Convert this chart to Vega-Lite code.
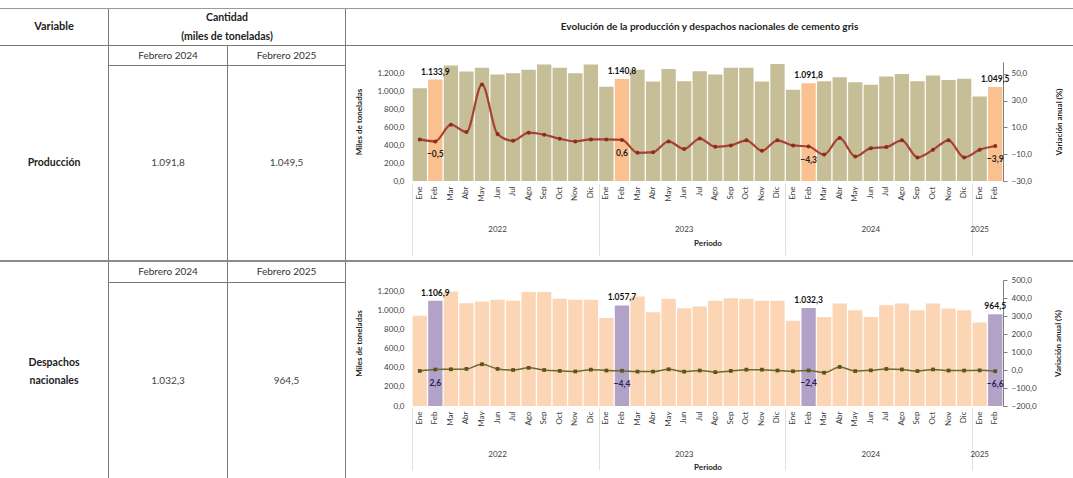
{
  "$schema": "https://vega.github.io/schema/vega-lite/v6.json",
  "padding": {"left": 0, "top": 8, "right": 0, "bottom": 0},
  "autosize": {"type": "pad"},
  "config": {
    "font": "Lato",
    "locale": {"number": {"decimal": ",", "thousands": ".", "grouping": [3], "currency": ["$", ""]}},
    "view": {"stroke": null},
    "axis": {"labelFont": "Lato", "titleFont": "Lato", "grid": false}
  },
  "datasets": {
    "k": [{"k": "a"}],
    "prod": [
      {"mes": "2022-01", "v": 1037, "var": 1.0, "feb": false},
      {"mes": "2022-02", "v": 1133.9, "var": -0.5, "feb": true},
      {"mes": "2022-03", "v": 1290, "var": 12.0, "feb": false},
      {"mes": "2022-04", "v": 1223, "var": 6.5, "feb": false},
      {"mes": "2022-05", "v": 1265, "var": 42.0, "feb": false},
      {"mes": "2022-06", "v": 1190, "var": 5.0, "feb": false},
      {"mes": "2022-07", "v": 1204, "var": 0.0, "feb": false},
      {"mes": "2022-08", "v": 1242, "var": 6.0, "feb": false},
      {"mes": "2022-09", "v": 1301, "var": 4.5, "feb": false},
      {"mes": "2022-10", "v": 1265, "var": 1.5, "feb": false},
      {"mes": "2022-11", "v": 1204, "var": -0.5, "feb": false},
      {"mes": "2022-12", "v": 1301, "var": 1.0, "feb": false},
      {"mes": "2023-01", "v": 1052, "var": 1.0, "feb": false},
      {"mes": "2023-02", "v": 1140.8, "var": 0.6, "feb": true},
      {"mes": "2023-03", "v": 1242, "var": -9.0, "feb": false},
      {"mes": "2023-04", "v": 1112, "var": -8.5, "feb": false},
      {"mes": "2023-05", "v": 1253, "var": -0.5, "feb": false},
      {"mes": "2023-06", "v": 1115, "var": -6.2, "feb": false},
      {"mes": "2023-07", "v": 1227, "var": 1.6, "feb": false},
      {"mes": "2023-08", "v": 1190, "var": -4.5, "feb": false},
      {"mes": "2023-09", "v": 1265, "var": -3.5, "feb": false},
      {"mes": "2023-10", "v": 1265, "var": 0.3, "feb": false},
      {"mes": "2023-11", "v": 1112, "var": -7.5, "feb": false},
      {"mes": "2023-12", "v": 1309, "var": 0.3, "feb": false},
      {"mes": "2024-01", "v": 1019, "var": -3.5, "feb": false},
      {"mes": "2024-02", "v": 1091.8, "var": -4.3, "feb": true},
      {"mes": "2024-03", "v": 1115, "var": -10.3, "feb": false},
      {"mes": "2024-04", "v": 1160, "var": 2.1, "feb": false},
      {"mes": "2024-05", "v": 1104, "var": -11.8, "feb": false},
      {"mes": "2024-06", "v": 1075, "var": -5.5, "feb": false},
      {"mes": "2024-07", "v": 1167, "var": -4.7, "feb": false},
      {"mes": "2024-08", "v": 1197, "var": 0.3, "feb": false},
      {"mes": "2024-09", "v": 1115, "var": -12.5, "feb": false},
      {"mes": "2024-10", "v": 1178, "var": -6.7, "feb": false},
      {"mes": "2024-11", "v": 1130, "var": 0.3, "feb": false},
      {"mes": "2024-12", "v": 1142, "var": -12.5, "feb": false},
      {"mes": "2025-01", "v": 945, "var": -6.7, "feb": false},
      {"mes": "2025-02", "v": 1049.5, "var": -3.9, "feb": true}
    ],
    "desp": [
      {"mes": "2022-01", "v": 950, "var": -5, "feb": false},
      {"mes": "2022-02", "v": 1106.9, "var": 2.6, "feb": true},
      {"mes": "2022-03", "v": 1205, "var": 4, "feb": false},
      {"mes": "2022-04", "v": 1082, "var": 6, "feb": false},
      {"mes": "2022-05", "v": 1099, "var": 32, "feb": false},
      {"mes": "2022-06", "v": 1117, "var": 6, "feb": false},
      {"mes": "2022-07", "v": 1107, "var": 0, "feb": false},
      {"mes": "2022-08", "v": 1199, "var": 12, "feb": false},
      {"mes": "2022-09", "v": 1199, "var": 0, "feb": false},
      {"mes": "2022-10", "v": 1128, "var": -5, "feb": false},
      {"mes": "2022-11", "v": 1117, "var": -8, "feb": false},
      {"mes": "2022-12", "v": 1117, "var": 2, "feb": false},
      {"mes": "2023-01", "v": 925, "var": -3, "feb": false},
      {"mes": "2023-02", "v": 1057.7, "var": -4.4, "feb": true},
      {"mes": "2023-03", "v": 1153, "var": -9, "feb": false},
      {"mes": "2023-04", "v": 986, "var": -9, "feb": false},
      {"mes": "2023-05", "v": 1128, "var": 4, "feb": false},
      {"mes": "2023-06", "v": 1029, "var": -9, "feb": false},
      {"mes": "2023-07", "v": 1046, "var": -3, "feb": false},
      {"mes": "2023-08", "v": 1107, "var": -12, "feb": false},
      {"mes": "2023-09", "v": 1135, "var": -5, "feb": false},
      {"mes": "2023-10", "v": 1128, "var": 2, "feb": false},
      {"mes": "2023-11", "v": 1107, "var": 2, "feb": false},
      {"mes": "2023-12", "v": 1107, "var": -3, "feb": false},
      {"mes": "2024-01", "v": 897, "var": -7, "feb": false},
      {"mes": "2024-02", "v": 1032.3, "var": -2.4, "feb": true},
      {"mes": "2024-03", "v": 937, "var": -15, "feb": false},
      {"mes": "2024-04", "v": 1078, "var": 17, "feb": false},
      {"mes": "2024-05", "v": 1007, "var": -6, "feb": false},
      {"mes": "2024-06", "v": 937, "var": -2, "feb": false},
      {"mes": "2024-07", "v": 1060, "var": 6, "feb": false},
      {"mes": "2024-08", "v": 1078, "var": 3, "feb": false},
      {"mes": "2024-09", "v": 1007, "var": -6, "feb": false},
      {"mes": "2024-10", "v": 1078, "var": 3, "feb": false},
      {"mes": "2024-11", "v": 1025, "var": -3, "feb": false},
      {"mes": "2024-12", "v": 1007, "var": -3, "feb": false},
      {"mes": "2025-01", "v": 880, "var": -2, "feb": false},
      {"mes": "2025-02", "v": 964.5, "var": -6.6, "feb": true}
    ]
  },
  "spacing": 0,
  "vconcat": [
    {"width": 1073, "height": 1, "data": {"name": "k"}, "mark": {"type": "point", "size": 0, "strokeWidth": 0, "opacity": 0}, "encoding": {"x": {"field": "k", "type": "nominal", "axis": null}, "y": {"field": "k", "type": "nominal", "axis": null}}, "view": {"stroke": null, "fill": "#9a9a9a"}},
    {
      "spacing": 0,
      "hconcat": [
        {"width": 108, "height": 36, "data": {"values": [{"t": "Variable"}]}, "mark": {"type": "text", "fontWeight": "bold", "fontSize": 11, "color": "#222222"}, "encoding": {"x": {"field": "t", "type": "nominal", "axis": null}, "y": {"field": "t", "type": "nominal", "axis": null}, "text": {"field": "t"}}},
        {"width": 1, "height": 36, "data": {"name": "k"}, "mark": {"type": "point", "size": 0, "strokeWidth": 0, "opacity": 0}, "encoding": {"x": {"field": "k", "type": "nominal", "axis": null}, "y": {"field": "k", "type": "nominal", "axis": null}}, "view": {"stroke": null, "fill": "#7a7a7a"}},
        {"width": 236, "height": 36, "data": {"values": [{"t": "Cantidad\n(miles de toneladas)"}]}, "mark": {"type": "text", "fontWeight": "bold", "fontSize": 10.5, "color": "#222222", "lineBreak": "\n", "lineHeight": 19, "dy": -9}, "encoding": {"x": {"field": "t", "type": "nominal", "axis": null}, "y": {"field": "t", "type": "nominal", "axis": null}, "text": {"field": "t"}}},
        {"width": 1, "height": 36, "data": {"name": "k"}, "mark": {"type": "point", "size": 0, "strokeWidth": 0, "opacity": 0}, "encoding": {"x": {"field": "k", "type": "nominal", "axis": null}, "y": {"field": "k", "type": "nominal", "axis": null}}, "view": {"stroke": null, "fill": "#7a7a7a"}},
        {"width": 727, "height": 36, "data": {"values": [{"t": "Evolución de la producción y despachos nacionales de cemento gris"}]}, "mark": {"type": "text", "fontWeight": "bold", "fontSize": 10, "color": "#222222"}, "encoding": {"x": {"field": "t", "type": "nominal", "axis": null}, "y": {"field": "t", "type": "nominal", "axis": null}, "text": {"field": "t"}}}
      ]
    },
    {"width": 1073, "height": 1, "data": {"name": "k"}, "mark": {"type": "point", "size": 0, "strokeWidth": 0, "opacity": 0}, "encoding": {"x": {"field": "k", "type": "nominal", "axis": null}, "y": {"field": "k", "type": "nominal", "axis": null}}, "view": {"stroke": null, "fill": "#7a7a7a"}},
    {
      "spacing": 0,
      "hconcat": [
        {"width": 108, "height": 214, "data": {"values": [{"t": "Producción"}]}, "mark": {"type": "text", "fontWeight": "bold", "fontSize": 10.5, "color": "#222222", "dy": 10}, "encoding": {"x": {"field": "t", "type": "nominal", "axis": null}, "y": {"field": "t", "type": "nominal", "axis": null}, "text": {"field": "t"}}},
        {"width": 1, "height": 214, "data": {"name": "k"}, "mark": {"type": "point", "size": 0, "strokeWidth": 0, "opacity": 0}, "encoding": {"x": {"field": "k", "type": "nominal", "axis": null}, "y": {"field": "k", "type": "nominal", "axis": null}}, "view": {"stroke": null, "fill": "#7a7a7a"}},
        {
          "spacing": 0,
          "vconcat": [
            {
              "spacing": 0,
              "hconcat": [
                {"width": 118, "height": 19, "data": {"values": [{"t": "Febrero 2024"}]}, "mark": {"type": "text", "fontSize": 10, "color": "#333333"}, "encoding": {"x": {"field": "t", "type": "nominal", "axis": null}, "y": {"field": "t", "type": "nominal", "axis": null}, "text": {"field": "t"}}},
                {"width": 1, "height": 19, "data": {"name": "k"}, "mark": {"type": "point", "size": 0, "strokeWidth": 0, "opacity": 0}, "encoding": {"x": {"field": "k", "type": "nominal", "axis": null}, "y": {"field": "k", "type": "nominal", "axis": null}}, "view": {"stroke": null, "fill": "#7a7a7a"}},
                {"width": 117, "height": 19, "data": {"values": [{"t": "Febrero 2025"}]}, "mark": {"type": "text", "fontSize": 10, "color": "#333333"}, "encoding": {"x": {"field": "t", "type": "nominal", "axis": null}, "y": {"field": "t", "type": "nominal", "axis": null}, "text": {"field": "t"}}}
              ]
            },
            {"width": 236, "height": 1, "data": {"name": "k"}, "mark": {"type": "point", "size": 0, "strokeWidth": 0, "opacity": 0}, "encoding": {"x": {"field": "k", "type": "nominal", "axis": null}, "y": {"field": "k", "type": "nominal", "axis": null}}, "view": {"stroke": null, "fill": "#7a7a7a"}},
            {
              "spacing": 0,
              "hconcat": [
                {"width": 118, "height": 194, "data": {"values": [{"v": 1091.8}]}, "mark": {"type": "text", "fontSize": 10, "color": "#444444"}, "encoding": {"x": {"field": "v", "type": "nominal", "axis": null}, "y": {"field": "v", "type": "nominal", "axis": null}, "text": {"field": "v", "type": "quantitative", "format": ",.1f"}}},
                {"width": 1, "height": 194, "data": {"name": "k"}, "mark": {"type": "point", "size": 0, "strokeWidth": 0, "opacity": 0}, "encoding": {"x": {"field": "k", "type": "nominal", "axis": null}, "y": {"field": "k", "type": "nominal", "axis": null}}, "view": {"stroke": null, "fill": "#7a7a7a"}},
                {"width": 117, "height": 194, "data": {"values": [{"v": 1049.5}]}, "mark": {"type": "text", "fontSize": 10, "color": "#444444"}, "encoding": {"x": {"field": "v", "type": "nominal", "axis": null}, "y": {"field": "v", "type": "nominal", "axis": null}, "text": {"field": "v", "type": "quantitative", "format": ",.1f"}}}
              ]
            }
          ]
        },
        {"width": 1, "height": 214, "data": {"name": "k"}, "mark": {"type": "point", "size": 0, "strokeWidth": 0, "opacity": 0}, "encoding": {"x": {"field": "k", "type": "nominal", "axis": null}, "y": {"field": "k", "type": "nominal", "axis": null}}, "view": {"stroke": null, "fill": "#7a7a7a"}},
        {
          "width": 727,
          "height": 214,
          "data": {"name": "prod"},
          "resolve": {"scale": {"y": "independent"}, "axis": {"x": "independent"}},
          "layer": [
            {
              "resolve": {"axis": {"x": "independent"}},
              "layer": [
                {
                  "mark": {"type": "bar"},
                  "encoding": {
                    "x": {"field": "mes", "type": "ordinal", "scale": {"paddingInner": 0.08, "paddingOuter": 0.04, "range": [66, 657]}, "axis": {"orient": "bottom", "title": null, "offset": -79, "labelAngle": 270, "labelExpr": "['Ene','Feb','Mar','Abr','May','Jun','Jul','Ago','Sep','Oct','Nov','Dic'][toNumber(substring(datum.value,5,7))-1]", "ticks": false, "domain": false, "grid": false, "labelFontSize": 8, "labelPadding": 5, "labelColor": "#404040", "labelOverlap": false}},
                    "y": {"field": "v", "type": "quantitative", "scale": {"domain": [0, 1330], "nice": false, "range": [135, 16]}, "axis": {"title": "Miles de toneladas", "offset": -66, "values": [0, 200, 400, 600, 800, 1000, 1200], "format": ",.1f", "grid": false, "domain": false, "ticks": false, "labelFontSize": 8, "labelColor": "#404040", "labelPadding": 8, "titleFontSize": 8, "titleFontWeight": "bold", "titlePadding": 14, "titleColor": "#222222"}},
                    "color": {"condition": {"test": "datum.feb", "value": "#fac08f"}, "value": "#c5be97"}
                  }
                },
                {
                  "transform": [{"filter": "datum.feb"}],
                  "mark": {"type": "text", "dy": -8, "fontWeight": "bold", "fontSize": 8.5, "color": "#111111"},
                  "encoding": {
                    "x": {"field": "mes", "type": "ordinal", "scale": {"paddingInner": 0.08, "paddingOuter": 0.04, "range": [66, 657]}, "axis": {"orient": "bottom", "values": ["2022-01", "2023-01", "2024-01", "2025-01"], "bandPosition": 0, "labels": false, "domain": false, "grid": false, "ticks": true, "tickSize": 72, "tickColor": "#e0e0e0", "title": null, "offset": -77}},
                    "y": {"field": "v", "type": "quantitative", "scale": {"domain": [0, 1330], "nice": false, "range": [135, 16]}, "axis": {"title": "Miles de toneladas", "offset": -66, "values": [0, 200, 400, 600, 800, 1000, 1200], "format": ",.1f", "grid": false, "domain": false, "ticks": false, "labelFontSize": 8, "labelColor": "#404040", "labelPadding": 8, "titleFontSize": 8, "titleFontWeight": "bold", "titlePadding": 14, "titleColor": "#222222"}},
                    "text": {"field": "v", "type": "quantitative", "format": ",.1f"}
                  }
                }
              ]
            },
            {
              "layer": [
                {
                  "mark": {"type": "line", "interpolate": "monotone", "color": "#a8412f", "strokeWidth": 2.2},
                  "encoding": {
                    "x": {"field": "mes", "type": "ordinal", "scale": {"paddingInner": 0.08, "paddingOuter": 0.04, "range": [66, 657]}, "axis": {"orient": "bottom", "values": ["2022-06", "2023-06", "2024-06", "2025-01"], "bandPosition": 1, "labelExpr": "substring(datum.value,0,4)", "labelAngle": 0, "offset": -37, "ticks": false, "domain": false, "grid": false, "labelFontSize": 8, "labelColor": "#404040", "labelPadding": 2, "labelOverlap": false, "title": "Periodo", "titleFontSize": 8, "titleFontWeight": "bold", "titlePadding": 6, "titleColor": "#222222"}},
                    "y": {"field": "var", "type": "quantitative", "scale": {"domain": [-30, 58.7], "nice": false, "zero": false, "range": [135, 16]}, "axis": {"orient": "right", "offset": -70, "title": "Variación anual (%)", "titleAngle": 270, "values": [-30, -10, 10, 30, 50], "format": ",.1f", "grid": false, "domain": true, "domainColor": "#7f7f7f", "ticks": true, "tickSize": 4, "tickColor": "#7f7f7f", "labelFontSize": 8, "labelColor": "#404040", "labelPadding": 4, "titleFontSize": 8, "titleFontWeight": "bold", "titlePadding": 32, "titleColor": "#222222"}}
                  }
                },
                {
                  "mark": {"type": "point", "filled": true, "size": 16, "color": "#8a2c20", "opacity": 1},
                  "encoding": {
                    "x": {"field": "mes", "type": "ordinal", "scale": {"paddingInner": 0.08, "paddingOuter": 0.04, "range": [66, 657]}, "axis": {"orient": "bottom", "values": ["2022-06", "2023-06", "2024-06", "2025-01"], "bandPosition": 1, "labelExpr": "substring(datum.value,0,4)", "labelAngle": 0, "offset": -37, "ticks": false, "domain": false, "grid": false, "labelFontSize": 8, "labelColor": "#404040", "labelPadding": 2, "labelOverlap": false, "title": "Periodo", "titleFontSize": 8, "titleFontWeight": "bold", "titlePadding": 6, "titleColor": "#222222"}},
                    "y": {"field": "var", "type": "quantitative", "scale": {"domain": [-30, 58.7], "nice": false, "zero": false, "range": [135, 16]}, "axis": {"orient": "right", "offset": -70, "title": "Variación anual (%)", "titleAngle": 270, "values": [-30, -10, 10, 30, 50], "format": ",.1f", "grid": false, "domain": true, "domainColor": "#7f7f7f", "ticks": true, "tickSize": 4, "tickColor": "#7f7f7f", "labelFontSize": 8, "labelColor": "#404040", "labelPadding": 4, "titleFontSize": 8, "titleFontWeight": "bold", "titlePadding": 32, "titleColor": "#222222"}}
                  }
                },
                {
                  "transform": [{"filter": "datum.feb"}],
                  "mark": {"type": "text", "dy": 13, "fontWeight": "bold", "fontSize": 8.5, "color": "#222222"},
                  "encoding": {
                    "x": {"field": "mes", "type": "ordinal", "scale": {"paddingInner": 0.08, "paddingOuter": 0.04, "range": [66, 657]}, "axis": {"orient": "bottom", "values": ["2022-06", "2023-06", "2024-06", "2025-01"], "bandPosition": 1, "labelExpr": "substring(datum.value,0,4)", "labelAngle": 0, "offset": -37, "ticks": false, "domain": false, "grid": false, "labelFontSize": 8, "labelColor": "#404040", "labelPadding": 2, "labelOverlap": false, "title": "Periodo", "titleFontSize": 8, "titleFontWeight": "bold", "titlePadding": 6, "titleColor": "#222222"}},
                    "y": {"field": "var", "type": "quantitative", "scale": {"domain": [-30, 58.7], "nice": false, "zero": false, "range": [135, 16]}, "axis": {"orient": "right", "offset": -70, "title": "Variación anual (%)", "titleAngle": 270, "values": [-30, -10, 10, 30, 50], "format": ",.1f", "grid": false, "domain": true, "domainColor": "#7f7f7f", "ticks": true, "tickSize": 4, "tickColor": "#7f7f7f", "labelFontSize": 8, "labelColor": "#404040", "labelPadding": 4, "titleFontSize": 8, "titleFontWeight": "bold", "titlePadding": 32, "titleColor": "#222222"}},
                    "text": {"field": "var", "type": "quantitative", "format": ",.1f"}
                  }
                }
              ]
            }
          ]
        }
      ]
    },
    {"width": 1073, "height": 2, "data": {"name": "k"}, "mark": {"type": "point", "size": 0, "strokeWidth": 0, "opacity": 0}, "encoding": {"x": {"field": "k", "type": "nominal", "axis": null}, "y": {"field": "k", "type": "nominal", "axis": null}}, "view": {"stroke": null, "fill": "#8c8c8c"}},
    {
      "spacing": 0,
      "hconcat": [
        {"width": 108, "height": 216, "data": {"values": [{"t": "Despachos\nnacionales"}]}, "mark": {"type": "text", "fontWeight": "bold", "fontSize": 10.5, "color": "#222222", "lineBreak": "\n", "lineHeight": 18, "dy": -7}, "encoding": {"x": {"field": "t", "type": "nominal", "axis": null}, "y": {"field": "t", "type": "nominal", "axis": null}, "text": {"field": "t"}}},
        {"width": 1, "height": 216, "data": {"name": "k"}, "mark": {"type": "point", "size": 0, "strokeWidth": 0, "opacity": 0}, "encoding": {"x": {"field": "k", "type": "nominal", "axis": null}, "y": {"field": "k", "type": "nominal", "axis": null}}, "view": {"stroke": null, "fill": "#7a7a7a"}},
        {
          "spacing": 0,
          "vconcat": [
            {
              "spacing": 0,
              "hconcat": [
                {"width": 118, "height": 20, "data": {"values": [{"t": "Febrero 2024"}]}, "mark": {"type": "text", "fontSize": 10, "color": "#333333"}, "encoding": {"x": {"field": "t", "type": "nominal", "axis": null}, "y": {"field": "t", "type": "nominal", "axis": null}, "text": {"field": "t"}}},
                {"width": 1, "height": 20, "data": {"name": "k"}, "mark": {"type": "point", "size": 0, "strokeWidth": 0, "opacity": 0}, "encoding": {"x": {"field": "k", "type": "nominal", "axis": null}, "y": {"field": "k", "type": "nominal", "axis": null}}, "view": {"stroke": null, "fill": "#7a7a7a"}},
                {"width": 117, "height": 20, "data": {"values": [{"t": "Febrero 2025"}]}, "mark": {"type": "text", "fontSize": 10, "color": "#333333"}, "encoding": {"x": {"field": "t", "type": "nominal", "axis": null}, "y": {"field": "t", "type": "nominal", "axis": null}, "text": {"field": "t"}}}
              ]
            },
            {"width": 236, "height": 1, "data": {"name": "k"}, "mark": {"type": "point", "size": 0, "strokeWidth": 0, "opacity": 0}, "encoding": {"x": {"field": "k", "type": "nominal", "axis": null}, "y": {"field": "k", "type": "nominal", "axis": null}}, "view": {"stroke": null, "fill": "#7a7a7a"}},
            {
              "spacing": 0,
              "hconcat": [
                {"width": 118, "height": 195, "data": {"values": [{"v": 1032.3}]}, "mark": {"type": "text", "fontSize": 10, "color": "#444444"}, "encoding": {"x": {"field": "v", "type": "nominal", "axis": null}, "y": {"field": "v", "type": "nominal", "axis": null}, "text": {"field": "v", "type": "quantitative", "format": ",.1f"}}},
                {"width": 1, "height": 195, "data": {"name": "k"}, "mark": {"type": "point", "size": 0, "strokeWidth": 0, "opacity": 0}, "encoding": {"x": {"field": "k", "type": "nominal", "axis": null}, "y": {"field": "k", "type": "nominal", "axis": null}}, "view": {"stroke": null, "fill": "#7a7a7a"}},
                {"width": 117, "height": 195, "data": {"values": [{"v": 964.5}]}, "mark": {"type": "text", "fontSize": 10, "color": "#444444"}, "encoding": {"x": {"field": "v", "type": "nominal", "axis": null}, "y": {"field": "v", "type": "nominal", "axis": null}, "text": {"field": "v", "type": "quantitative", "format": ",.1f"}}}
              ]
            }
          ]
        },
        {"width": 1, "height": 216, "data": {"name": "k"}, "mark": {"type": "point", "size": 0, "strokeWidth": 0, "opacity": 0}, "encoding": {"x": {"field": "k", "type": "nominal", "axis": null}, "y": {"field": "k", "type": "nominal", "axis": null}}, "view": {"stroke": null, "fill": "#7a7a7a"}},
        {
          "width": 727,
          "height": 216,
          "data": {"name": "desp"},
          "resolve": {"scale": {"y": "independent"}, "axis": {"x": "independent"}},
          "layer": [
            {
              "resolve": {"axis": {"x": "independent"}},
              "layer": [
                {
                  "mark": {"type": "bar"},
                  "encoding": {
                    "x": {"field": "mes", "type": "ordinal", "scale": {"paddingInner": 0.08, "paddingOuter": 0.04, "range": [66, 657]}, "axis": {"orient": "bottom", "title": null, "offset": -72, "labelAngle": 270, "labelExpr": "['Ene','Feb','Mar','Abr','May','Jun','Jul','Ago','Sep','Oct','Nov','Dic'][toNumber(substring(datum.value,5,7))-1]", "ticks": false, "domain": false, "grid": false, "labelFontSize": 8, "labelPadding": 5, "labelColor": "#404040", "labelOverlap": false}},
                    "y": {"field": "v", "type": "quantitative", "scale": {"domain": [0, 1326], "nice": false, "range": [144, 18]}, "axis": {"title": "Miles de toneladas", "offset": -66, "values": [0, 200, 400, 600, 800, 1000, 1200], "format": ",.1f", "grid": false, "domain": false, "ticks": false, "labelFontSize": 8, "labelColor": "#404040", "labelPadding": 8, "titleFontSize": 8, "titleFontWeight": "bold", "titlePadding": 14, "titleColor": "#222222"}},
                    "color": {"condition": {"test": "datum.feb", "value": "#b3a2c7"}, "value": "#fcd5b5"}
                  }
                },
                {
                  "transform": [{"filter": "datum.feb"}],
                  "mark": {"type": "text", "dy": -8, "fontWeight": "bold", "fontSize": 8.5, "color": "#111111"},
                  "encoding": {
                    "x": {"field": "mes", "type": "ordinal", "scale": {"paddingInner": 0.08, "paddingOuter": 0.04, "range": [66, 657]}, "axis": {"orient": "bottom", "values": ["2022-01", "2023-01", "2024-01", "2025-01"], "bandPosition": 0, "labels": false, "domain": false, "grid": false, "ticks": true, "tickSize": 62, "tickColor": "#e0e0e0", "title": null, "offset": -70}},
                    "y": {"field": "v", "type": "quantitative", "scale": {"domain": [0, 1326], "nice": false, "range": [144, 18]}, "axis": {"title": "Miles de toneladas", "offset": -66, "values": [0, 200, 400, 600, 800, 1000, 1200], "format": ",.1f", "grid": false, "domain": false, "ticks": false, "labelFontSize": 8, "labelColor": "#404040", "labelPadding": 8, "titleFontSize": 8, "titleFontWeight": "bold", "titlePadding": 14, "titleColor": "#222222"}},
                    "text": {"field": "v", "type": "quantitative", "format": ",.1f"}
                  }
                }
              ]
            },
            {
              "layer": [
                {
                  "mark": {"type": "line", "interpolate": "monotone", "color": "#6b6a2e", "strokeWidth": 1.5},
                  "encoding": {
                    "x": {"field": "mes", "type": "ordinal", "scale": {"paddingInner": 0.08, "paddingOuter": 0.04, "range": [66, 657]}, "axis": {"orient": "bottom", "values": ["2022-06", "2023-06", "2024-06", "2025-01"], "bandPosition": 1, "labelExpr": "substring(datum.value,0,4)", "labelAngle": 0, "offset": -30, "ticks": false, "domain": false, "grid": false, "labelFontSize": 8, "labelColor": "#404040", "labelPadding": 2, "labelOverlap": false, "title": "Periodo", "titleFontSize": 8, "titleFontWeight": "bold", "titlePadding": 5, "titleColor": "#222222"}},
                    "y": {"field": "var", "type": "quantitative", "scale": {"domain": [-200, 500], "nice": false, "zero": false, "range": [144, 18]}, "axis": {"orient": "right", "offset": -70, "title": "Variación anual (%)", "titleAngle": 270, "values": [-200, -100, 0, 100, 200, 300, 400, 500], "format": ",.1f", "grid": false, "domain": true, "domainColor": "#7f7f7f", "ticks": true, "tickSize": 4, "tickColor": "#7f7f7f", "labelFontSize": 8, "labelColor": "#404040", "labelPadding": 4, "titleFontSize": 8, "titleFontWeight": "bold", "titlePadding": 26, "titleColor": "#222222"}}
                  }
                },
                {
                  "mark": {"type": "square", "filled": true, "size": 14, "color": "#57551f", "opacity": 1},
                  "encoding": {
                    "x": {"field": "mes", "type": "ordinal", "scale": {"paddingInner": 0.08, "paddingOuter": 0.04, "range": [66, 657]}, "axis": {"orient": "bottom", "values": ["2022-06", "2023-06", "2024-06", "2025-01"], "bandPosition": 1, "labelExpr": "substring(datum.value,0,4)", "labelAngle": 0, "offset": -30, "ticks": false, "domain": false, "grid": false, "labelFontSize": 8, "labelColor": "#404040", "labelPadding": 2, "labelOverlap": false, "title": "Periodo", "titleFontSize": 8, "titleFontWeight": "bold", "titlePadding": 5, "titleColor": "#222222"}},
                    "y": {"field": "var", "type": "quantitative", "scale": {"domain": [-200, 500], "nice": false, "zero": false, "range": [144, 18]}, "axis": {"orient": "right", "offset": -70, "title": "Variación anual (%)", "titleAngle": 270, "values": [-200, -100, 0, 100, 200, 300, 400, 500], "format": ",.1f", "grid": false, "domain": true, "domainColor": "#7f7f7f", "ticks": true, "tickSize": 4, "tickColor": "#7f7f7f", "labelFontSize": 8, "labelColor": "#404040", "labelPadding": 4, "titleFontSize": 8, "titleFontWeight": "bold", "titlePadding": 26, "titleColor": "#222222"}}
                  }
                },
                {
                  "transform": [{"filter": "datum.feb"}],
                  "mark": {"type": "text", "dy": 13, "fontWeight": "bold", "fontSize": 8.5, "color": "#1f2060"},
                  "encoding": {
                    "x": {"field": "mes", "type": "ordinal", "scale": {"paddingInner": 0.08, "paddingOuter": 0.04, "range": [66, 657]}, "axis": {"orient": "bottom", "values": ["2022-06", "2023-06", "2024-06", "2025-01"], "bandPosition": 1, "labelExpr": "substring(datum.value,0,4)", "labelAngle": 0, "offset": -30, "ticks": false, "domain": false, "grid": false, "labelFontSize": 8, "labelColor": "#404040", "labelPadding": 2, "labelOverlap": false, "title": "Periodo", "titleFontSize": 8, "titleFontWeight": "bold", "titlePadding": 5, "titleColor": "#222222"}},
                    "y": {"field": "var", "type": "quantitative", "scale": {"domain": [-200, 500], "nice": false, "zero": false, "range": [144, 18]}, "axis": {"orient": "right", "offset": -70, "title": "Variación anual (%)", "titleAngle": 270, "values": [-200, -100, 0, 100, 200, 300, 400, 500], "format": ",.1f", "grid": false, "domain": true, "domainColor": "#7f7f7f", "ticks": true, "tickSize": 4, "tickColor": "#7f7f7f", "labelFontSize": 8, "labelColor": "#404040", "labelPadding": 4, "titleFontSize": 8, "titleFontWeight": "bold", "titlePadding": 26, "titleColor": "#222222"}},
                    "text": {"field": "var", "type": "quantitative", "format": ",.1f"}
                  }
                }
              ]
            }
          ]
        }
      ]
    }
  ]
}
